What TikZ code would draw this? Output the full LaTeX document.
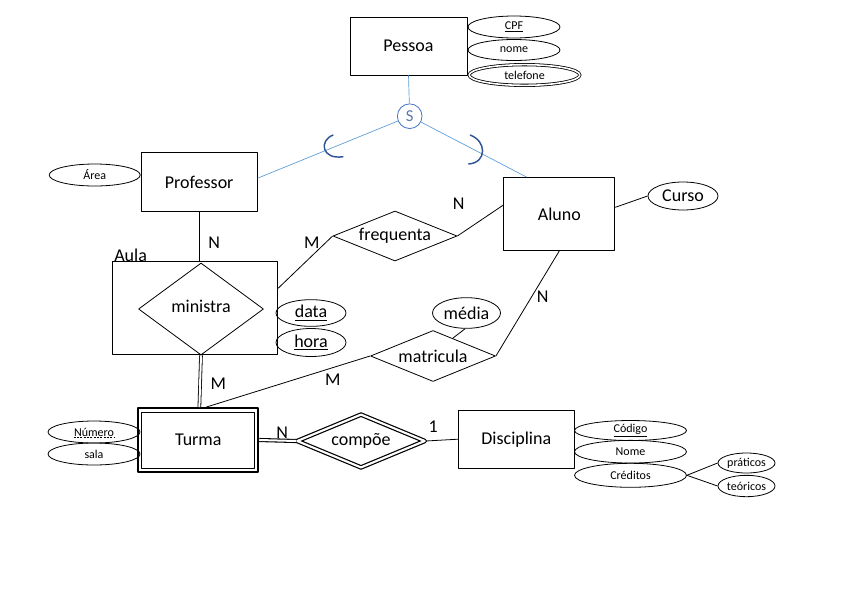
\documentclass[tikz,border=0pt]{standalone}
\usepackage{fontspec}
\setmainfont{Carlito}
\usetikzlibrary{shapes.geometric}
\definecolor{splitblue}{RGB}{91,155,213}
\definecolor{circblue}{RGB}{68,114,196}
\definecolor{arcblue}{RGB}{47,85,151}
\begin{document}
\begin{tikzpicture}[x=0.75pt, y=-0.75pt, line join=round,
  entity/.style={draw, line width=0.6pt, inner sep=0pt, font=\fontsize{13.5}{16}\selectfont},
  relation/.style={draw, diamond, inner sep=0pt, line width=0.6pt, font=\fontsize{13.5}{16}\selectfont},
  attrib/.style={draw, ellipse, inner sep=0pt, line width=0.6pt, minimum width=69pt, minimum height=16.5pt, font=\fontsize{9}{11}\selectfont},
  bigattrib/.style={attrib, minimum width=52.5pt, minimum height=20pt, font=\fontsize{13.5}{16}\selectfont},
  card/.style={inner sep=0pt, font=\fontsize{13.5}{16}\selectfont},
  link/.style={line width=0.6pt}]

\useasboundingbox (0,0) rectangle (845,590);

% entities
\node[entity, minimum width=87.75pt, minimum height=43.5pt] (pessoa) at (408.5,46) {Pessoa};
\node[entity, minimum width=87pt, minimum height=44.25pt] (professor) at (199.2,182.2) {Professor};
\node[entity, minimum width=83.25pt, minimum height=54.75pt] (aluno) at (559.3,214) {Aluno};
\node[entity, minimum width=87pt, minimum height=43.5pt] (disciplina) at (516.3,439.2) {Disciplina};
% weak entity
\node[draw, line width=1.4pt, minimum width=90pt, minimum height=48pt] (turmabox) at (198.3,440) {};
\node[entity, minimum width=84.75pt, minimum height=42pt] (turma) at (198.3,440) {Turma};

% aggregation
\node[draw, line width=0.6pt, minimum width=123.75pt, minimum height=69.75pt] (aula) at (195.2,308.3) {};
\node[card, anchor=south west] (aulalabel) at (114,262) {Aula};
\node[relation, aspect=1.36, minimum width=93.75pt, minimum height=69pt] (ministra) at (201,309) {\raisebox{4pt}{ministra}};

% relationships
\node[relation, aspect=2.48, minimum width=93pt, minimum height=37.5pt] (frequenta) at (395,236) {frequenta};
\node[relation, aspect=2.45, minimum width=93.75pt, minimum height=38.25pt] (matricula) at (433,356) {matricula};
\node[relation, aspect=2.4, double, double distance=1.6pt, line width=0.9pt, minimum width=96pt, minimum height=40pt] (compoe) at (361,441) {compõe};

% attributes
\node[attrib] (cpf) at (514,27) {\underline{CPF}};
\node[attrib, minimum height=15.75pt] (nome) at (514,50) {nome};
\node[attrib, double, double distance=1.2pt, minimum width=83pt, minimum height=15.5pt] (telefone) at (524.5,75) {telefone};
\node[attrib, minimum width=68.25pt] (area) at (94.7,175) {Área};
\node[bigattrib] (data) at (311,313) {\underline{data}};
\node[bigattrib, minimum height=21pt] (hora) at (311,342.5) {\underline{hora}};
\node[bigattrib, minimum height=21pt] (curso) at (683,196) {Curso};
\node[bigattrib, minimum width=51pt, minimum height=23pt] (media) at (466.5,313) {média};
\node[attrib] (numero) at (94,432) {};
\node[inner sep=0pt, font=\fontsize{9}{11}\selectfont] (numerotext) at (94,432) {Número};
\draw[line width=0.4pt, dash pattern=on 1.5pt off 1pt] ([yshift=-1.2pt]numerotext.base west) -- ([yshift=-1.2pt]numerotext.base east);
\node[attrib] (sala) at (94,454) {sala};
\node[attrib, minimum width=84pt, minimum height=15pt] (codigo) at (630.5,430.5) {\underline{Código}};
\node[attrib, minimum width=84pt, minimum height=17pt] (nomedisc) at (630.5,451.7) {Nome};
\node[attrib, minimum width=84pt, minimum height=18pt] (creditos) at (630.5,475.3) {Créditos};
\node[attrib, minimum width=42.75pt, minimum height=15pt] (praticos) at (746.5,463) {práticos};
\node[attrib, minimum width=42.75pt, minimum height=16pt] (teoricos) at (746.5,486) {teóricos};

% specialization
\node[draw=circblue, circle, line width=0.6pt, minimum size=18.5pt, inner sep=0pt, text=circblue!60!gray, font=\fontsize{12.5}{14}\selectfont] (spec) at (409.7,116.2) {S};
\draw[splitblue, line width=0.5pt] (pessoa.south) -- (spec);
\draw[splitblue, line width=0.5pt] (spec) -- ([yshift=3pt]professor.east);
\draw[splitblue, line width=0.5pt] (spec) -- ([xshift=-24.5pt]aluno.north);
\draw[arcblue, line width=1.1pt] (333.3,135) .. controls (319,140) and (321,160) .. (343.3,156.7);
\draw[arcblue, line width=1.1pt] (470,135) .. controls (487,141) and (487,163) .. (468.3,164);

% connectors
\draw[link] (professor.south) -- (professor.south |- aula.north);
\draw[link] ([yshift=15pt]aula.east) -- (frequenta.west);
\draw[link] (frequenta.east) -- ([yshift=6.75pt]aluno.west);
\draw[link] ([yshift=5pt]aluno.east) -- (curso.west);
\draw[link] (matricula.east) -- (aluno.south);
\draw[link] (media.-95) -- (matricula.42);
\draw[link] (matricula.west) -- ([xshift=6pt]turmabox.north);
\draw[double, double distance=1.5pt, line width=0.6pt] (ministra.south) -- ([xshift=0.8pt]turmabox.north);
\draw[double, double distance=1.5pt, line width=0.8pt] (turmabox.east) -- (compoe.west);
\draw[link] (compoe.east) -- (disciplina.west);
\draw[link] (creditos.east) -- (praticos.west);
\draw[link] (creditos.east) -- (teoricos.west);

% cardinalities
\node[card] (cardpa) at (214.3,242.7) {N};
\node[card] (cardfm) at (311.7,242.7) {M};
\node[card] (cardfn) at (458.7,203.3) {N};
\node[card] (cardmn) at (542.7,296.7) {N};
\node[card] (cardmm) at (332.7,380) {M};
\node[card] (cardtm) at (218.3,383.3) {M};
\node[card] (cardcn) at (282.3,432.7) {N};
\node[card] (cardc1) at (433.3,426.7) {1};

\end{tikzpicture}
\end{document}
